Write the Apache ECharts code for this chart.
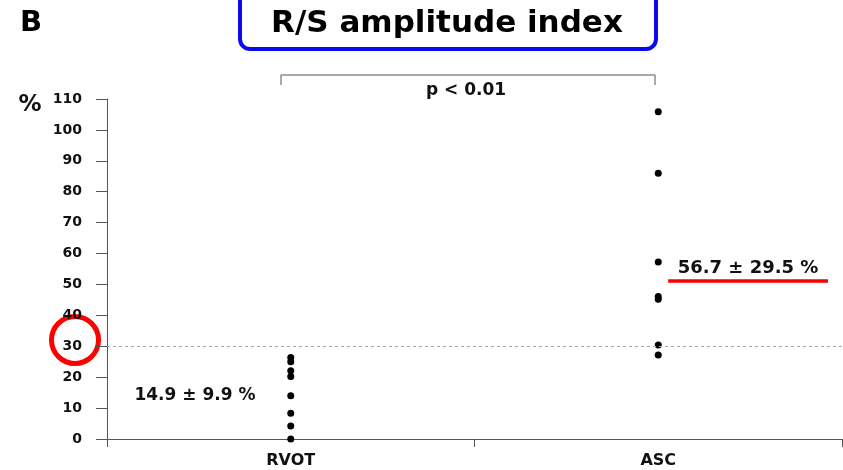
<!DOCTYPE html>
<html>
<head>
    <meta charset="utf-8">
    <title>R/S amplitude index</title>
    <script src="https://cdn.jsdelivr.net/npm/echarts@6/dist/echarts.min.js"></script>
    <style>
        html, body { margin: 0; padding: 0; background: #fff; }
        #chart { width: 843px; height: 470px; }
    </style>
</head>
<body>
<div id="chart"></div>
<script>
    // groups and individual values (%)
    var groups = ['RVOT', 'ASC'];
    var rvotValues = [26.4, 25.0, 22.1, 20.2, 14.0, 8.3, 4.2, 0];
    var ascValues = [105.9, 86.0, 57.3, 46.1, 45.2, 30.4, 27.2];
    var cutoff = 30;
    // red underline under the ASC summary, in (position 0..2, value) units
    var underline = [[1.527, 51.1], [1.962, 51.1]];

    var font = 'DejaVu Sans';

    var points = [];
    rvotValues.forEach(function (v) { points.push([groups[0], v]); });
    ascValues.forEach(function (v) { points.push([groups[1], v]); });

    var chart = echarts.init(document.getElementById('chart'));
    var option = {
        animation: false,
        grid: { left: 107, right: 1, top: 99, bottom: 31 },
        xAxis: [{
            type: 'category',
            data: groups,
            boundaryGap: true,
            axisLine: { lineStyle: { color: '#555', width: 1 } },
            axisTick: { show: true, length: 8, lineStyle: { color: '#555' } },
            axisLabel: { color: '#111', fontFamily: font, fontWeight: 'bold', fontSize: 16, margin: 14 }
        }, {
            type: 'value', min: 0, max: 2, show: false
        }],
        yAxis: {
            type: 'value',
            min: 0,
            max: 110,
            interval: 10,
            splitLine: { show: false },
            axisLine: { show: true, lineStyle: { color: '#555', width: 1 } },
            axisTick: { show: true, length: 11, lineStyle: { color: '#555' } },
            axisLabel: { color: '#111', fontFamily: font, fontWeight: 'bold', fontSize: 14, margin: 25 }
        },
        series: [{
            type: 'scatter',
            data: points,
            symbolSize: 7,
            itemStyle: { color: '#000', opacity: 1 },
            markLine: {
                silent: true,
                symbol: 'none',
                label: { show: false },
                lineStyle: { color: '#aaa', type: [3, 3], width: 1 },
                data: [{ yAxis: cutoff }]
            }
        }, {
            type: 'line',
            xAxisIndex: 1,
            data: [],
            markLine: {
                silent: true,
                symbol: 'none',
                label: { show: false },
                lineStyle: { color: '#f00', type: 'solid', width: 3.5 },
                data: [[{ coord: underline[0] }, { coord: underline[1] }]]
            }
        }],
        graphic: [
            { type: 'text', left: 20, top: 9, style: { text: 'B', fontFamily: font, fontWeight: 'bold', fontSize: 29, fill: '#000' } },
            { type: 'rect', shape: { x: 240, y: -20, width: 416, height: 69, r: 10 },
              style: { fill: '#fff', stroke: '#0a0af0', lineWidth: 4 } },
            { type: 'text', x: 447, y: 24,
              style: { text: 'R/S amplitude index', fontFamily: font, fontWeight: 'bold', fontSize: 31, fill: '#000', align: 'center', verticalAlign: 'middle' } },
            { type: 'polyline', shape: { points: [[281, 85], [281, 75], [655, 75], [655, 85]] },
              style: { stroke: '#555', lineWidth: 1, fill: null } },
            { type: 'text', x: 466, y: 91,
              style: { text: 'p < 0.01', fontFamily: font, fontWeight: 'bold', fontSize: 17, fill: '#111', align: 'center', verticalAlign: 'middle' } },
            { type: 'text', x: 30, y: 105,
              style: { text: '%', fontFamily: font, fontWeight: 'bold', fontSize: 23, fill: '#111', align: 'center', verticalAlign: 'middle' } },
            { type: 'text', x: 195, y: 396,
              style: { text: '14.9 \u00b1 9.9 %', fontFamily: font, fontWeight: 'bold', fontSize: 17, fill: '#111', align: 'center', verticalAlign: 'middle' } },
            { type: 'text', x: 748, y: 268,
              style: { text: '56.7 \u00b1 29.5 %', fontFamily: font, fontWeight: 'bold', fontSize: 18, fill: '#111', align: 'center', verticalAlign: 'middle' } },
            { type: 'circle', shape: { cx: 75, cy: 340, r: 23.5 },
              style: { fill: null, stroke: '#f00', lineWidth: 5 } }
        ]
    };
    chart.setOption(option);
</script>
</body>
</html>
